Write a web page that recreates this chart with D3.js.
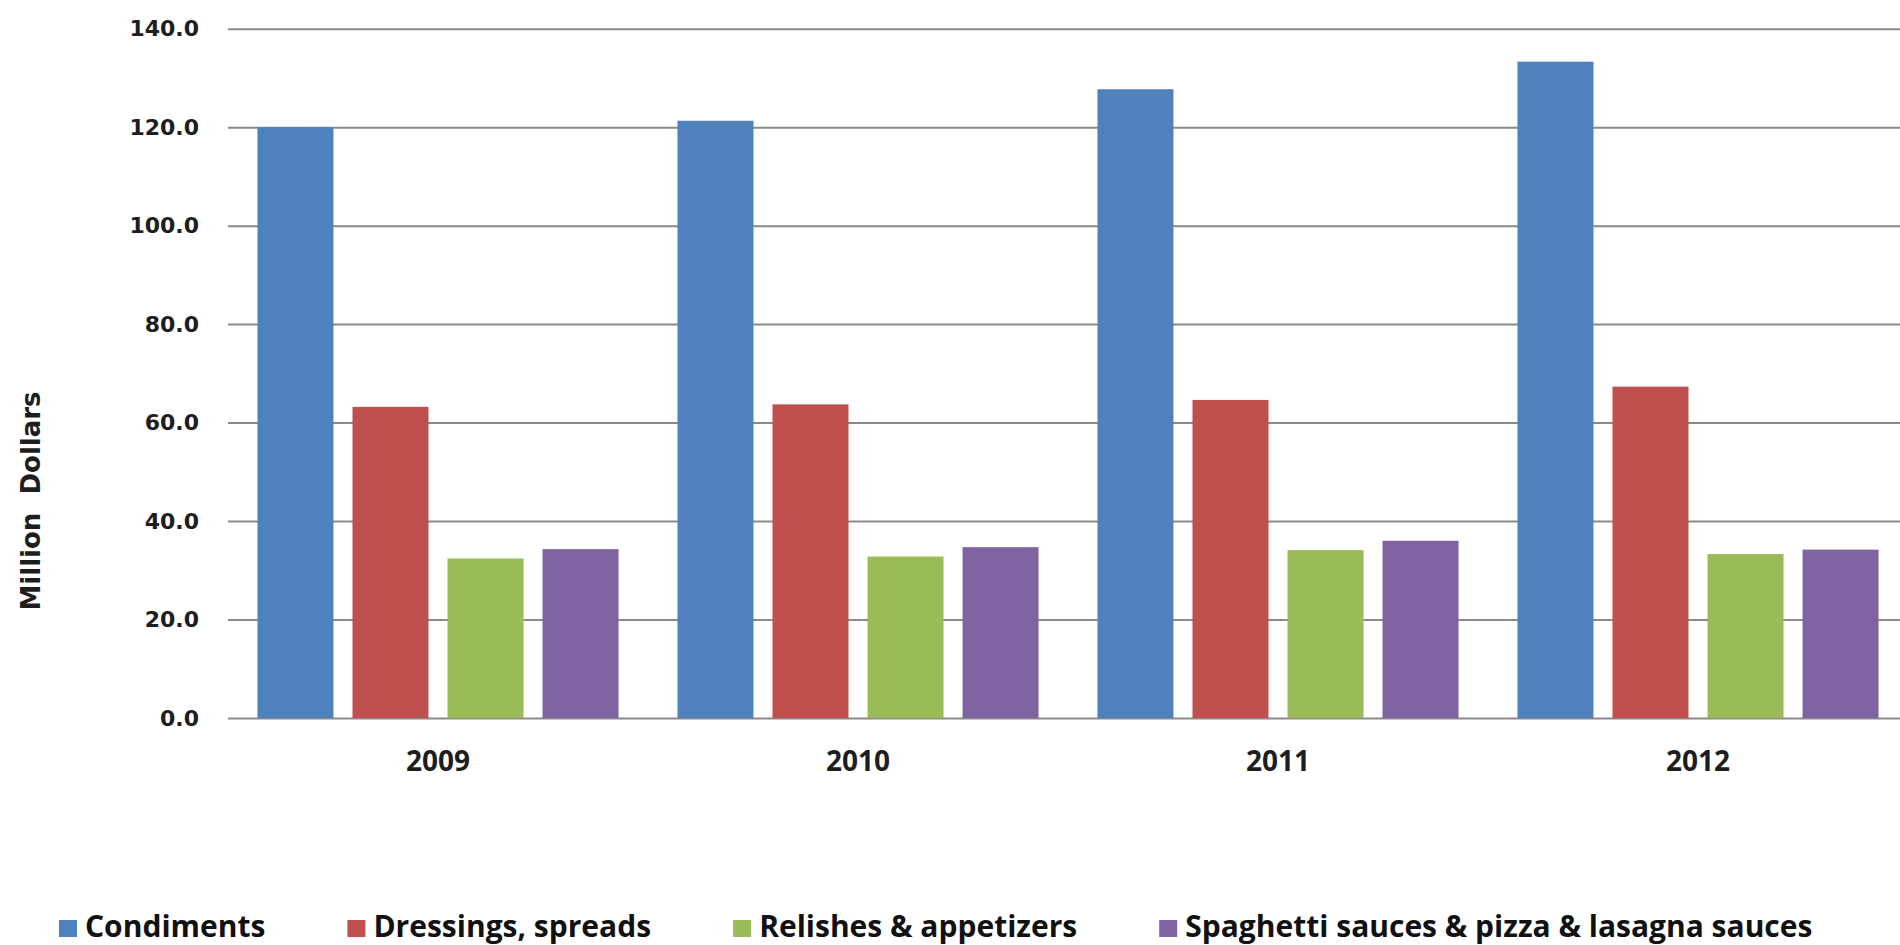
<!DOCTYPE html>
<html>
<head>
<meta charset="utf-8">
<script src="https://cdn.jsdelivr.net/npm/d3@7"></script>
<style>
    body { margin: 0; background: #fff; }
    .tick text { fill: #1e1e1e; }
</style>
</head>
<body>
<div id="chart"></div>
<script>
// ============
//   Data
// ============

const years = ['2009', '2010', '2011', '2012'];
const seriesNames = [
    'Condiments',
    'Dressings, spreads',
    'Relishes & appetizers',
    'Spaghetti sauces & pizza & lasagna sauces'
];
const condiments = [120.0, 121.3, 127.7, 133.3];
const dressings  = [63.2, 63.7, 64.6, 67.3];
const relishes   = [32.4, 32.8, 34.1, 33.3];
const spaghetti  = [34.3, 34.7, 36.0, 34.2];
const yTicks = [0, 20, 40, 60, 80, 100, 120, 140];

const seriesValues = [condiments, dressings, relishes, spaghetti];
const colors = ['#4f81bd', '#c0504d', '#9bbb59', '#8064a2'];

// ============
//   Plot box
// ============

const svgWidth = 1900;
const svgHeight = 945;

const plot = { left: 228, right: 1908, top: 28.7, bottom: 718 };

const svg = d3.select('#chart')
    .append('svg')
        .attr('width', svgWidth)
        .attr('height', svgHeight);

// Scales
const yScale = d3.scaleLinear()
    .domain([0, 140])
    .range([plot.bottom, plot.top]);

const x0 = d3.scaleBand()
    .domain(years)
    .range([plot.left, plot.right]);

const x1 = d3.scaleBand()
    .domain(seriesNames)
    .range([0, x0.bandwidth()])
    .paddingInner(0.2)
    .paddingOuter(0.31);

// Y axis with gridlines
const yAxis = svg.append('g')
    .attr('transform', `translate(${plot.left}, 0)`)
    .call(d3.axisLeft(yScale)
        .tickValues(yTicks)
        .tickFormat(d3.format('.1f'))
        .tickSize(-(svgWidth - plot.left))
        .tickPadding(29));

yAxis.select('.domain').remove();
yAxis.selectAll('.tick line')
    .attr('stroke', '#8a8a8a')
    .attr('stroke-width', 2);
yAxis.selectAll('.tick text')
    .attr('font-family', 'DejaVu Sans')
    .attr('font-weight', 'bold')
    .attr('font-size', 22);

// Y axis title
svg.append('text')
    .attr('transform', 'translate(40, 501) rotate(-90)')
    .attr('text-anchor', 'middle')
    .attr('font-family', 'DejaVu Sans')
    .attr('font-weight', 'bold')
    .attr('font-size', 26)
    .attr('fill', '#1e1e1e')
    .attr('xml:space', 'preserve')
    .text('Million  Dollars');

// Bars
const groups = svg.append('g')
    .selectAll('g')
    .data(years)
    .join('g')
        .attr('transform', d => `translate(${x0(d)}, 0)`);

groups.selectAll('rect')
    .data((_, i) => seriesNames.map((name, s) => ({ name, s, value: seriesValues[s][i] })))
    .join('rect')
        .attr('x', d => x1(d.name))
        .attr('width', x1.bandwidth())
        .attr('y', d => yScale(d.value))
        .attr('height', d => yScale(0) - yScale(d.value))
        .attr('fill', d => colors[d.s]);

// X axis labels
const xAxis = svg.append('g')
    .attr('transform', `translate(0, ${plot.bottom})`)
    .call(d3.axisBottom(x0).tickSize(0));

xAxis.select('.domain').remove();
xAxis.selectAll('.tick text')
    .attr('y', 53)
    .attr('dy', null)
    .attr('font-family', 'Open Sans')
    .attr('font-weight', 'bold')
    .attr('font-size', 28);

// Legend: square, small gap, label, then a wide gap before next item
const legend = svg.append('g').attr('transform', 'translate(59, 937)');
let cursor = 0;
seriesNames.forEach((name, i) => {
    legend.append('rect')
        .attr('x', cursor)
        .attr('y', -17)
        .attr('width', 18)
        .attr('height', 17)
        .attr('fill', colors[i]);
    const label = legend.append('text')
        .attr('x', cursor + 26)
        .attr('y', 0)
        .attr('font-family', 'Open Sans')
        .attr('font-weight', 'bold')
        .attr('font-size', 30)
        .attr('fill', '#111')
        .text(name);
    cursor += 26 + label.node().getComputedTextLength() + 82;
});
</script>
</body>
</html>
